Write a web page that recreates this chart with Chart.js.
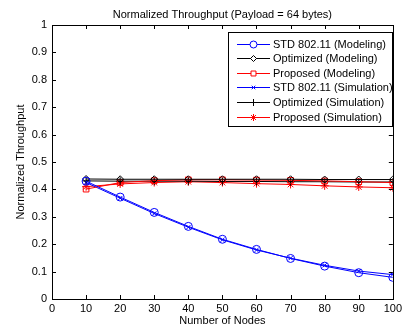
<!DOCTYPE html>
<html lang="en">
<head>
  <meta charset="UTF-8" />
  <title>Normalized Throughput</title>
  <script src="https://cdn.jsdelivr.net/npm/chart.js@4.4.1/dist/chart.umd.min.js"></script>
  <style>
    html, body { margin: 0; padding: 0; background: #fff; }
    #wrap { width: 405px; height: 327px; position: relative; }
  </style>
</head>
<body>
  <div id="wrap"><canvas id="c" width="405" height="327"></canvas></div>

  <script>
    const nodes = [10, 20, 30, 40, 50, 60, 70, 80, 90, 100];

    const stdModel = [0.430, 0.372, 0.316, 0.265, 0.218, 0.181, 0.148, 0.120, 0.096, 0.079];
    const optModel = [0.438, 0.437, 0.437, 0.437, 0.437, 0.437, 0.437, 0.436, 0.436, 0.436];
    const propModel = [0.401, 0.425, 0.432, 0.435, 0.435, 0.434, 0.433, 0.431, 0.428, 0.425];
    const stdSim = [0.425, 0.368, 0.312, 0.262, 0.216, 0.179, 0.149, 0.123, 0.102, 0.089];
    const optSim = [0.431, 0.430, 0.430, 0.430, 0.429, 0.429, 0.428, 0.428, 0.427, 0.427];
    const propSim = [0.410, 0.420, 0.425, 0.428, 0.425, 0.421, 0.418, 0.413, 0.409, 0.406];

    const seriesNames = [
      'STD 802.11 (Modeling)',
      'Optimized (Modeling)',
      'Proposed (Modeling)',
      'STD 802.11 (Simulation)',
      'Optimized (Simulation)',
      'Proposed (Simulation)',
    ];
    const seriesData = [stdModel, optModel, propModel, stdSim, optSim, propSim];
    const seriesColors = ['#0000ff', '#000000', '#ff0000', '#0000ff', '#000000', '#ff0000'];
    const seriesMarkers = ['circle', 'rectRot', 'rect', 'crossRot', 'cross', 'star'];
    const markerSizes = [4, 3.5, 4, 3, 4, 4];

    const FONT = 'Liberation Sans, Arial, sans-serif';

    const datasets = seriesNames.map((name, i) => ({
      label: name,
      data: nodes.map((x, j) => ({ x: x, y: seriesData[i][j] })),
      borderColor: seriesColors[i],
      backgroundColor: 'rgba(0,0,0,0)',
      borderWidth: 1,
      pointStyle: seriesMarkers[i],
      pointRadius: markerSizes[i],
      pointBorderColor: seriesColors[i],
      pointBorderWidth: 1,
      pointBackgroundColor: 'rgba(0,0,0,0)',
      tension: 0,
    }));

    // matlab-style box, inward ticks, title and legend
    const matlabFrame = {
      id: 'matlabFrame',
      afterDraw(chart) {
        const ctx = chart.ctx;
        const a = chart.chartArea;
        const xs = chart.scales.x, ys = chart.scales.y;
        ctx.save();
        ctx.strokeStyle = '#000';
        ctx.lineWidth = 1;
        ctx.strokeRect(Math.round(a.left) + 0.5, Math.round(a.top) + 0.5,
          Math.round(a.right - a.left), Math.round(a.bottom - a.top));
        ctx.beginPath();
        xs.ticks.forEach(t => {
          const px = Math.round(xs.getPixelForValue(t.value)) + 0.5;
          ctx.moveTo(px, a.bottom); ctx.lineTo(px, a.bottom - 4);
          ctx.moveTo(px, a.top); ctx.lineTo(px, a.top + 4);
        });
        ys.ticks.forEach(t => {
          const py = Math.round(ys.getPixelForValue(t.value)) + 0.5;
          ctx.moveTo(a.left, py); ctx.lineTo(a.left + 4, py);
          ctx.moveTo(a.right, py); ctx.lineTo(a.right - 4, py);
        });
        ctx.stroke();

        // title
        ctx.fillStyle = '#000';
        ctx.font = '11px ' + FONT;
        ctx.textAlign = 'center';
        ctx.textBaseline = 'middle';
        ctx.fillText('Normalized Throughput (Payload = 64 bytes)', (a.left + a.right) / 2, 15);

        // legend
        const lx = 228, ly = 32, lw = 164, lh = 94;
        ctx.fillStyle = '#fff';
        ctx.fillRect(lx, ly, lw, lh);
        ctx.strokeRect(lx + 0.5, ly + 0.5, lw, lh);
        ctx.textAlign = 'left';
        chart.data.datasets.forEach((ds, i) => {
          const y = Math.round(ly + 11.5 + i * 14.6) + 0.5;
          ctx.strokeStyle = ds.borderColor;
          ctx.lineWidth = 1;
          ctx.beginPath();
          ctx.moveTo(237, y);
          ctx.lineTo(270, y);
          ctx.stroke();
          ctx.fillStyle = '#fff';
          Chart.helpers.drawPoint(ctx, {
            pointStyle: ds.pointStyle, radius: ds.pointRadius - 0.5, borderWidth: 1, rotation: 0
          }, 253.5, y);
          ctx.fillStyle = '#000';
          ctx.fillText(ds.label, 273, y + 0.5);
        });
        ctx.restore();
      }
    };

    new Chart(document.getElementById('c'), {
      type: 'line',
      data: { datasets: datasets },
      plugins: [matlabFrame],
      options: {
        responsive: false,
        animation: false,
        layout: { padding: { top: 25, right: 7, left: 0, bottom: 0 } },
        plugins: {
          legend: { display: false },
          tooltip: { enabled: false },
        },
        scales: {
          x: {
            type: 'linear',
            min: 0,
            max: 100,
            ticks: { stepSize: 10, color: '#000', font: { size: 11, family: FONT }, padding: 3, maxRotation: 0 },
            grid: { display: false, drawTicks: false, tickLength: 0 },
            border: { display: false },
            title: { display: true, text: 'Number of Nodes', color: '#000', font: { size: 11, family: FONT }, padding: { top: 0, bottom: -1 } },
            afterFit(s) { s.height = 28; },
          },
          y: {
            min: 0,
            max: 1,
            ticks: { stepSize: 0.1, color: '#000', font: { size: 11, family: FONT }, padding: 5,
              callback: v => Math.round(v * 10) / 10 + '' },
            grid: { display: false, drawTicks: false, tickLength: 0 },
            border: { display: false },
            title: { display: true, text: 'Normalized Throughput', color: '#000', font: { size: 11, family: FONT }, padding: { top: 14, bottom: 0 } },
            afterFit(s) { s.width = 52; },
          }
        }
      }
    });
  </script>
</body>
</html>
